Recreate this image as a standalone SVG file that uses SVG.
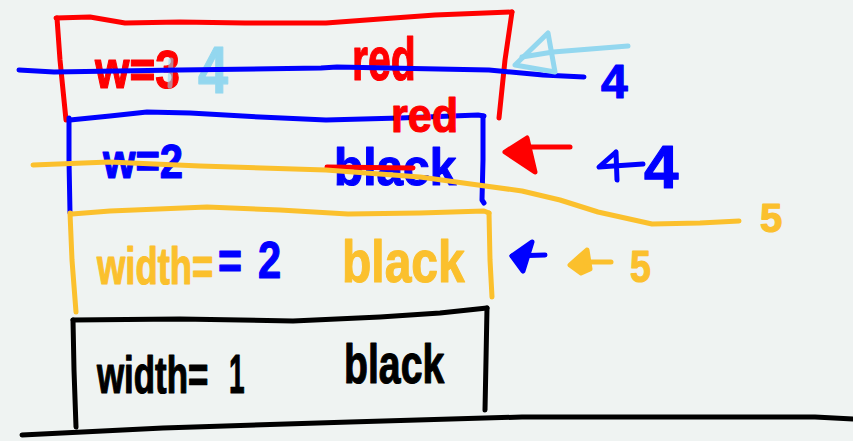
<svg xmlns="http://www.w3.org/2000/svg" width="853" height="441" viewBox="0 0 853 441">
<style>
.s{fill:none;stroke-width:5;stroke-linecap:round;stroke-linejoin:round}
.f{stroke-width:5;stroke-linecap:round;stroke-linejoin:round}
.t{font-family:"Liberation Sans",Arial,sans-serif;font-weight:bold;stroke-width:1.2;stroke-linejoin:round}
.red{stroke:#ff0000}.blue{stroke:#0000ff}.org{stroke:#fbc02d}.lb{stroke:#93d7ef}.blk{stroke:#000000}
.fr{fill:#ff0000;stroke:#ff0000}.fb{fill:#0000ff;stroke:#0000ff}.fo{fill:#fbc02d;stroke:#fbc02d}
.tr{fill:#ff0000;stroke:#ff0000}.tb{fill:#0000ff;stroke:#0000ff}.to{fill:#fbc02d;stroke:#fbc02d}.tl{fill:#93d7ef;stroke:#93d7ef}.tk{fill:#000;stroke:#000}
</style>
<rect x="0" y="0" width="853" height="441" fill="#eff3f2"/>

<g id="box-red">
<path class="s red" d="M56,18 L90,17 L125,23 L180,22 L245,23 L326,23 L380,19 L435,15 L512,12"/>
<path class="s red" d="M57,18 L60,60 L66,120"/>
<path class="s red" d="M512,12 L505,60 L499,118"/>
<text class="t tr" transform="translate(95,88) scale(0.82,1)" font-size="54">w=3</text>
<text class="t tl" transform="translate(198,93) scale(0.82,1)" font-size="66">4</text>
<path class="s lb" d="M171,60 L170,86" stroke-width="7" opacity="0.6"/>
<text class="t tr" transform="translate(352,80) scale(0.66,1)" font-size="62">red</text>
</g>

<g id="box-blue">
<path class="s blue" d="M70,120 L110,116 L147,112 L190,113 L260,117 L326,120 L400,118 L478,115 L484,116"/>
<path class="s blue" d="M69,118 L69,160 L70,213"/>
<path class="s blue" d="M483,116 L483,160 L482,200 L484,203"/>
<text class="t tb" transform="translate(103,178) scale(0.87,1)" font-size="48">w=2</text>
<text class="t tb" transform="translate(334,185) scale(0.92,1)" font-size="52">black</text>
<path class="s red" d="M327,167 L413,168"/>
<text class="t tr" transform="translate(391,132) scale(0.9,1)" font-size="48">red</text>
</g>

<g id="box-orange">
<path class="s org" d="M72,214 L110,211 L207,207 L280,210 L348,214 L420,213 L484,211 L489,213"/>
<path class="s org" d="M70,213 L72,260 L76,312"/>
<path class="s org" d="M489,213 L490,260 L492,297"/>
<text class="t to" transform="translate(97,284) scale(0.7,1)" font-size="52">width=</text>
<text class="t tb" transform="translate(218,279) scale(0.76,1)" font-size="54">=</text>
<text class="t tb" transform="translate(258,278) scale(0.8,1)" font-size="52">2</text>
<text class="t to" transform="translate(342,282) scale(0.8,1)" font-size="60">black</text>
</g>

<g id="box-black">
<path class="s blk" d="M73,320 L180,319 L293,321 L380,317 L440,313 L487,308"/>
<path class="s blk" d="M73,320 L74,370 L76,427"/>
<path class="s blk" d="M487,308 L486,360 L485,410"/>
<text class="t tk" transform="translate(97,393) scale(0.67,1)" font-size="52">width=</text>
<text class="t tk" transform="translate(229,393) scale(0.5,1)" font-size="56">1</text>
<text class="t tk" transform="translate(344,383) scale(0.7,1)" font-size="56">black</text>
</g>

<g id="ground">
<path class="s blk" d="M22,435 L163,428 L350,422 L522,417 L815,417 L853,419"/>
</g>

<g id="connectors">
<path class="s blue" d="M19,70 L54,72 L179,70 L321,68 L337,67 L489,70 L543,75 L584,77"/>
<text class="t tb" x="601" y="98" font-size="48">4</text>
<path class="s lb" d="M515,65 L548,33 L555,72 Z"/>
<path class="s lb" d="M522,57 L553,52 L628,46"/>
<path class="f fr" d="M505,152 L527,138 L535,172 Z"/>
<path class="s red" d="M527,147 L570,147"/>
<path class="s blue" d="M616,152 L599,167 L643,164 M616,152 L617,180"/>
<text class="t tb" x="644" y="188" font-size="62">4</text>
<path class="s org" d="M33,165 L109,162 L200,166 L326,170 L420,177 L478,185 L522,191 L560,200 L598,212 L652,224 L700,223 L739,221"/>
<text class="t to" x="760" y="232" font-size="40">5</text>
<path class="f fb" d="M532,242 L512,256 L523,271 Z"/>
<path class="s blue" d="M512,256 L545,255"/>
<path class="f fo" d="M587,250 L570,265 L581,273 L590,269 Z"/>
<path class="s org" d="M586,262 L611,262"/>
<text class="t to" transform="translate(630,282) scale(0.85,1)" font-size="44">5</text>
</g>
</svg>
